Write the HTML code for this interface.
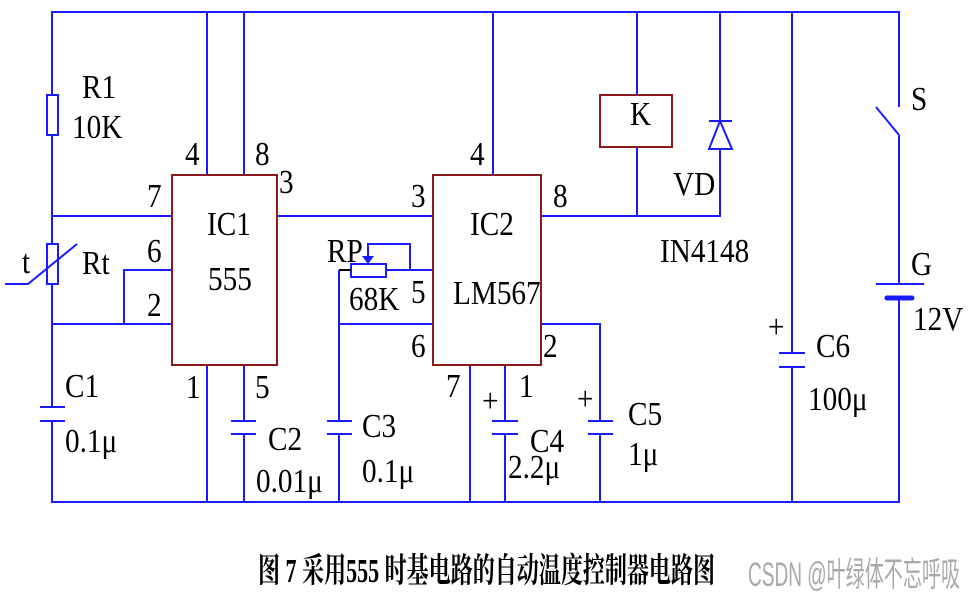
<!DOCTYPE html>
<html><head><meta charset="utf-8"><style>
html,body{margin:0;padding:0;background:#fff;}
svg{display:block}
text{font-family:"Liberation Serif","Noto Serif CJK SC",serif;fill:#000;font-size:34px;}
g.lbl text{transform-box:fill-box;transform-origin:left center;transform:scaleX(0.86);}
</style></head><body>
<svg width="975" height="598" viewBox="0 0 975 598" xmlns="http://www.w3.org/2000/svg">
<g stroke="#1a1aff" stroke-width="2" fill="none">
<polyline points="52,95 52,12 899,12 899,107"/>
<polyline points="52,421 52,502 899,502 899,298"/>
<line x1="52" y1="135" x2="52" y2="244"/>
<line x1="52" y1="284" x2="52" y2="407"/>
<rect x="47" y="95" width="11" height="40"/>
<rect x="47" y="244" width="11" height="40"/>
<polyline points="5,284 28,284 77,244"/>
<line x1="40" y1="407" x2="65" y2="407"/>
<line x1="40" y1="421" x2="65" y2="421"/>
<line x1="207" y1="12" x2="207" y2="175"/>
<line x1="244" y1="12" x2="244" y2="175"/>
<line x1="52" y1="216" x2="172" y2="216"/>
<polyline points="172,270 124,270 124,324"/>
<line x1="52" y1="324" x2="172" y2="324"/>
<line x1="277" y1="216" x2="433" y2="216"/>
<line x1="207" y1="365" x2="207" y2="502"/>
<line x1="244" y1="365" x2="244" y2="421"/>
<line x1="244" y1="434" x2="244" y2="502"/>
<line x1="231" y1="421" x2="256" y2="421"/>
<line x1="231" y1="434" x2="256" y2="434"/>
<line x1="493" y1="12" x2="493" y2="175"/>
<rect x="351" y="264" width="35" height="13"/>
<polyline points="368,256 368,244 410,244 410,270"/>
<line x1="386" y1="270" x2="433" y2="270"/>
<line x1="339" y1="270" x2="339" y2="421"/>
<line x1="339" y1="434" x2="339" y2="502"/>
<line x1="327" y1="421" x2="352" y2="421"/>
<line x1="327" y1="434" x2="352" y2="434"/>
<line x1="339" y1="324" x2="433" y2="324"/>
<line x1="470" y1="365" x2="470" y2="502"/>
<line x1="505" y1="365" x2="505" y2="421"/>
<line x1="505" y1="434" x2="505" y2="502"/>
<line x1="492" y1="421" x2="518" y2="421"/>
<line x1="492" y1="434" x2="518" y2="434"/>
<polyline points="541,324 600,324 600,421"/>
<line x1="600" y1="434" x2="600" y2="502"/>
<line x1="588" y1="421" x2="613" y2="421"/>
<line x1="588" y1="434" x2="613" y2="434"/>
<line x1="637" y1="12" x2="637" y2="95"/>
<line x1="637" y1="147" x2="637" y2="216"/>
<polyline points="541,216 720,216 720,12"/>
<line x1="709" y1="121" x2="732" y2="121"/>
<polygon points="720,121 709,149 732,149" fill="#fff"/>
<line x1="792" y1="12" x2="792" y2="353"/>
<line x1="792" y1="367" x2="792" y2="502"/>
<line x1="779" y1="353" x2="805" y2="353"/>
<line x1="779" y1="367" x2="805" y2="367"/>
<line x1="876" y1="107" x2="899" y2="135"/>
<line x1="899" y1="135" x2="899" y2="284"/>
<line x1="876" y1="284" x2="924" y2="284"/>
<line x1="887" y1="298" x2="912" y2="298" stroke-width="5" stroke-linecap="round"/>
</g>
<polygon points="362,256 374,256 368,264" fill="#1a1aff"/>
<line x1="339" y1="270" x2="351" y2="270" stroke="#000" stroke-width="2"/>
<g stroke="#8b1a1a" stroke-width="2" fill="none">
<rect x="172" y="175" width="105" height="190"/>
<rect x="433" y="175" width="108" height="190"/>
<rect x="600" y="95" width="72" height="52"/>
</g>
<g class="lbl">
<text x="82" y="98">R1</text>
<text x="72" y="138">10K</text>
<text x="185" y="165">4</text>
<text x="255" y="165">8</text>
<text x="279" y="193">3</text>
<text x="147" y="207">7</text>
<text x="207" y="235">IC1</text>
<text x="147" y="262">6</text>
<text x="82" y="274">Rt</text>
<text x="22" y="273">t</text>
<text x="208" y="290">555</text>
<text x="147" y="316">2</text>
<text x="186" y="398">1</text>
<text x="255" y="398">5</text>
<text x="65" y="397">C1</text>
<text x="65" y="452">0.1μ</text>
<text x="268" y="450">C2</text>
<text x="256" y="492">0.01μ</text>
<text x="470" y="165">4</text>
<text x="411" y="207">3</text>
<text x="553" y="207">8</text>
<text x="470" y="235">IC2</text>
<text x="327" y="262">RP</text>
<text x="349" y="310">68K</text>
<text x="411" y="303">5</text>
<text x="453" y="304">LM567</text>
<text x="411" y="357">6</text>
<text x="543" y="357">2</text>
<text x="446" y="397">7</text>
<text x="519" y="397">1</text>
<text x="482" y="412" font-size="24">+</text>
<text x="577" y="410" font-size="24">+</text>
<text x="362" y="437">C3</text>
<text x="362" y="482">0.1μ</text>
<text x="530" y="452">C4</text>
<text x="508" y="478">2.2μ</text>
<text x="628" y="425">C5</text>
<text x="628" y="465">1μ</text>
<text x="630" y="125">K</text>
<text x="673" y="195">VD</text>
<text x="660" y="262">IN4148</text>
<text x="911" y="110">S</text>
<text x="911" y="275">G</text>
<text x="913" y="330">12V</text>
<text x="768" y="338" font-size="24">+</text>
<text x="816" y="357">C6</text>
<text x="808" y="410">100μ</text>
</g>
<text x="258" y="582" font-size="17" font-weight="bold" textLength="457" lengthAdjust="spacingAndGlyphs">图 7  采用555 时基电路的自动温度控制器电路图</text>
<text x="748" y="586" font-size="17" textLength="212" lengthAdjust="spacingAndGlyphs" style="fill:#aaa;font-family:'Liberation Sans','Noto Sans CJK SC',sans-serif">CSDN @叶绿体不忘呼吸</text>
</svg>
</body></html>
